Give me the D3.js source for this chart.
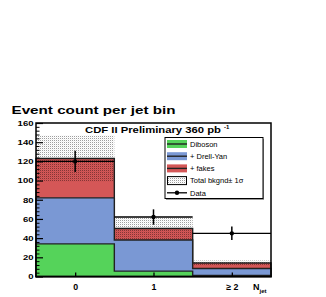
<!DOCTYPE html>
<html><head><meta charset="utf-8">
<script src="https://cdn.jsdelivr.net/npm/d3@7"></script>
<style>body{margin:0;background:#fff}svg{display:block}</style>
</head><body>
<svg id="c" width="326" height="297"></svg>
<script>
const bins = ["0", "1", "\u2265 2"];
const diboson = [34, 5.6, 1.0];
const drellYanStack = [82, 38, 8.4];
const fakesStack = [123, 50, 14];
const bkgSigma = [24, 12, 2.7];
const dataVals = [120, 62, 45];
const dataErr = [11, 8, 7];
const yTicks = [0, 20, 40, 60, 80, 100, 120, 140, 160];

const svg = d3.select("#c");
const font = "'Liberation Sans', Arial, Helvetica, sans-serif";
const L = 36, R = 271, T = 123, B = 276.5;
const x = d3.scaleLinear().domain([0, 3]).range([L, R]);
const y = d3.scaleLinear().domain([0, 160]).range([B, T]);

const defs = svg.append("defs");
const pat = defs.append("pattern").attr("id", "hatch").attr("patternUnits", "userSpaceOnUse")
  .attr("width", 2).attr("height", 2);
pat.append("rect").attr("x", 0).attr("y", 0).attr("width", 1).attr("height", 1).attr("fill", "#000").attr("fill-opacity", 0.38);
pat.append("rect").attr("x", 1).attr("y", 1).attr("width", 1).attr("height", 1).attr("fill", "#000").attr("fill-opacity", 0.06);

function stepPath(vals) {
  const p = d3.path();
  p.moveTo(x(0), y(0));
  vals.forEach((v, i) => { p.lineTo(x(i), y(v)); p.lineTo(x(i + 1), y(v)); });
  p.lineTo(x(vals.length), y(0));
  p.closePath();
  return p.toString();
}

const series = [
  {vals: fakesStack, color: "#d45757"},
  {vals: drellYanStack, color: "#7a98d4"},
  {vals: diboson, color: "#55d35a"}
];
series.forEach(s => {
  svg.append("path").attr("d", stepPath(s.vals)).attr("fill", s.color)
    .attr("stroke", "#222").attr("stroke-width", 1.4).attr("stroke-linejoin", "miter");
});

// uncertainty band
svg.selectAll("rect.band").data(fakesStack).enter().append("rect").attr("class", "band")
  .attr("x", (d, i) => x(i)).attr("width", (d, i) => x(i + 1) - x(i))
  .attr("y", (d, i) => y(d + bkgSigma[i])).attr("height", (d, i) => y(d - bkgSigma[i]) - y(d + bkgSigma[i]))
  .attr("fill", "url(#hatch)");

// data
const g = svg.append("g");
dataVals.forEach((v, i) => {
  g.append("line").attr("x1", x(i)).attr("x2", x(i + 1)).attr("y1", y(v)).attr("y2", y(v))
    .attr("stroke", "#000").attr("stroke-width", 1.3);
  g.append("line").attr("x1", x(i + 0.5)).attr("x2", x(i + 0.5)).attr("y1", y(v - dataErr[i])).attr("y2", y(v + dataErr[i]))
    .attr("stroke", "#000").attr("stroke-width", 1.5);
  g.append("circle").attr("cx", x(i + 0.5)).attr("cy", y(v)).attr("r", 2.2).attr("fill", "#000");
});

// frame
svg.append("rect").attr("x", L).attr("y", T).attr("width", R - L).attr("height", B - T)
  .attr("fill", "none").attr("stroke", "#000").attr("stroke-width", 1.5);

// y axis
const yAxis = d3.axisLeft(y).tickValues(yTicks).tickSizeInner(-7).tickSizeOuter(0).tickPadding(2.5);
const ya = svg.append("g").attr("transform", `translate(${L},0)`).call(yAxis);
ya.select(".domain").remove();
ya.selectAll("line").attr("stroke", "#000").attr("stroke-width", 1.2);
ya.selectAll("text").attr("font-family", font).attr("font-weight", "bold").attr("font-size", 7.2).attr("fill", "#000")
  .attr("textLength", d => String(d).length * 5.3).attr("lengthAdjust", "spacingAndGlyphs");
const minor = d3.range(0, 161, 4).filter(v => v % 20 !== 0);
const ym = svg.append("g").attr("transform", `translate(${L},0)`)
  .call(d3.axisLeft(y).tickValues(minor).tickSizeInner(-3.5).tickSizeOuter(0).tickFormat(""));
ym.select(".domain").remove();
ym.selectAll("line").attr("stroke", "#000").attr("stroke-width", 1);

// x axis
const xAxis = d3.axisBottom(x).tickValues([0.5, 1.5, 2.5]).tickSizeInner(-4).tickSizeOuter(0).tickPadding(7)
  .tickFormat((d, i) => bins[i]);
const xa = svg.append("g").attr("transform", `translate(0,${B})`).call(xAxis);
xa.select(".domain").remove();
xa.selectAll("line").attr("stroke", "#000").attr("stroke-width", 1.3);
xa.selectAll("text").attr("font-family", font).attr("font-weight", "bold").attr("font-size", 8.8).attr("fill", "#000");

const nj = svg.append("text").attr("x", 253).attr("y", 289.5).attr("font-family", font)
  .attr("font-weight", "bold").attr("font-size", 9);
nj.append("tspan").text("N");
nj.append("tspan").attr("dy", 3).attr("font-size", 6).text("jet");

// titles
svg.append("text").attr("x", 11.5).attr("y", 114).attr("font-family", font).attr("font-weight", "bold")
  .attr("font-size", 10.5).attr("textLength", 164).attr("lengthAdjust", "spacingAndGlyphs")
  .text("Event count per jet bin");
svg.append("text").attr("x", 85).attr("y", 132.7).attr("font-family", font).attr("font-weight", "bold")
  .attr("font-size", 8.6).attr("textLength", 136).attr("lengthAdjust", "spacingAndGlyphs")
  .text("CDF II Preliminary 360 pb");
svg.append("text").attr("x", 224).attr("y", 128.5).attr("font-family", font).attr("font-weight", "bold")
  .attr("font-size", 6).text("-1");

// legend
const lg = svg.append("g");
lg.append("rect").attr("x", 166).attr("y", 139).attr("width", 98).attr("height", 61).attr("fill", "#999");
lg.append("rect").attr("x", 165).attr("y", 137.5).attr("width", 98).attr("height", 61)
  .attr("fill", "#fff").attr("stroke", "#000").attr("stroke-width", 1);
const entries = [
  {name: "Diboson", color: "#55d35a", type: "fill"},
  {name: "+ Drell-Yan", color: "#7a98d4", type: "fill"},
  {name: "+ fakes", color: "#d45757", type: "fill"},
  {name: "Total bkgnd\u00b1 1\u03c3", type: "band"},
  {name: "Data", type: "data"}
];
entries.forEach((e, i) => {
  const cy = 144 + i * 12.2;
  if (e.type === "fill") {
    lg.append("rect").attr("x", 167).attr("y", cy - 4).attr("width", 20).attr("height", 8).attr("fill", e.color);
    lg.append("line").attr("x1", 167).attr("x2", 187).attr("y1", cy).attr("y2", cy).attr("stroke", "#222").attr("stroke-width", 1.4);
  } else if (e.type === "band") {
    lg.append("rect").attr("x", 167.5).attr("y", cy - 4).attr("width", 19).attr("height", 8)
      .attr("fill", "url(#hatch)").attr("stroke", "#000").attr("stroke-width", 1);
  } else {
    lg.append("line").attr("x1", 167).attr("x2", 187).attr("y1", cy).attr("y2", cy).attr("stroke", "#000").attr("stroke-width", 1.3);
    lg.append("circle").attr("cx", 177).attr("cy", cy).attr("r", 2.2).attr("fill", "#000");
  }
  lg.append("text").attr("x", 190).attr("y", cy + 2.7).attr("font-family", font).attr("font-size", 7.5).text(e.name);
});
</script>
</body></html>
